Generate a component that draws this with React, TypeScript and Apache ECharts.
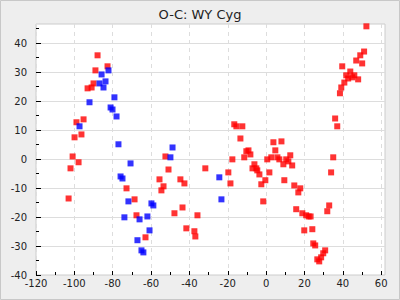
import React, { useEffect, useRef } from "react";
import * as echarts from "echarts";

const redX = [
  -87.9, -82.7, -89.0, -90.0, -91.0, -93.1, -95.2, -98.9, -96.3, -99.9, -100.9, -97.8, -102.0, -72.8, -103.0, -68.6, -67.6, -62.9,
  -52.5, -50.9, -31.7, -55.6, -53.5, -54.6, -44.7, -42.6, -43.6, -47.8, -35.8, -41.6, -37.4, -36.9,
  -16.6, -15.5, -12.4, -13.4, -10.3, -9.2, -8.2, -11.4, -17.6, -6.1, -7.1, -5.1, -4.6, -3.5, -19.7, -18.6, -0.4, -2.5,
  1.7, 0.6, 2.7, 3.8, 4.8, 8.0, 5.9, 6.9, 9.0, 10.5, 11.6, 12.6, 13.6, 9.5, -1.5, 14.7, 17.8, 16.8, 15.7,
  35.0, 33.9, 18.9, 20.9, 22.2, 23.2, 32.9, 31.9, 19.9, 24.1, 24.6, 25.6, 30.8, 29.8, 28.7, 26.7, 27.7,
  52.3, 51.1, 49.1, 47.0, 50.1, 39.7, 43.9, 41.8, 46.0, 44.9, 42.8, 48.0, 40.8, 39.2, 38.5, 36.0, 37.1,
];
const redY = [
  35.8, 32.0, 30.6, 26.1, 24.7, 24.4, 13.7, 12.7, 8.5, 7.5, 0.9, -1.1, -3.2, -10.1, -13.6, -13.9, -19.4, -27.0,
  0.9, -3.6, -3.2, -7.0, -9.4, -10.8, -7.0, -8.4, -16.7, -18.7, -19.4, -23.9, -24.9, -26.7,
  12.0, 11.3, 11.3, 7.1, 2.7, 3.0, 1.6, 0.6, -0.1, -1.8, -3.2, -3.2, -3.9, -5.3, -4.6, -8.4, -7.3, -8.7,
  -4.6, -0.1, 0.6, 5.8, 3.0, 6.1, 0.6, -0.1, -1.8, -0.1, -0.8, 1.3, -2.2, -7.3, -14.6, -9.1, -10.1, -11.5, -17.3,
  0.6, -4.6, -18.7, -19.4, -19.8, -19.8, -16.0, -18.0, -24.6, -24.2, -29.1, -29.8, -31.5, -32.5, -33.9, -34.6, -35.3,
  45.8, 37.1, 35.8, 34.0, 33.0, 32.0, 30.2, 28.9, 28.9, 28.2, 27.8, 27.5, 26.4, 24.7, 22.7, 14.0, 11.3,
];
const blueX = [
  -82.2, -85.8, -83.75, -86.9, -84.8, -79.1, -92.1, -81.1, -80.1, -78.0, -97.3, -77.0, -70.7, -75.9, -74.9,
  -71.8, -59.8, -58.8, -73.9, -61.9, -66.0, -60.8, -67.1, -65.0, -64.0, -48.8, -49.9, -24.4, -23.3,
];
const blueY = [
  30.6, 29.2, 26.8, 26.1, 24.7, 21.3, 19.6, 17.8, 17.1, 14.7, 11.3, 5.1, -1.5, -6.0, -6.7,
  -14.6, -15.3, -16.0, -20.1, -19.8, -20.8, -24.6, -28.0, -31.5, -32.2, 4.0, 0.6, -6.3, -13.9,
];

const xMajor = [-120, -100, -80, -60, -40, -20, 0, 20, 40, 60];
const xMinor = [-110, -90, -70, -50, -30, -10, 10, 30, 50];
const yMajor = [-40, -30, -20, -10, 0, 10, 20, 30, 40];
const yMinor = [-35, -25, -15, -5, 5, 15, 25, 35, 45];

const X_MIN = -120;
const X_MAX = 62;
const Y_MIN = -40;
const Y_MAX = 46.6;

export default function App() {
  const ref = useRef<HTMLDivElement>(null);
  useEffect(() => {
    const chart = echarts.init(ref.current!, null, { renderer: "svg" });
    const font = "DejaVu Sans";
    const labelStyle = { fontFamily: font, fontSize: 10, color: "#222" };
    const noLine = { show: false, onZero: false };
    chart.setOption({
      animation: false,
      backgroundColor: "#eeeeee",
      title: {
        text: "O-C: WY Cyg",
        left: "center",
        top: 3,
        textStyle: { fontFamily: font, fontSize: 13, fontWeight: "normal", color: "#222" },
      },
      graphic: [
        {
          type: "rect",
          shape: { x: 0.5, y: 0.5, width: 399, height: 299 },
          style: { fill: "none", stroke: "#c8c8c8", lineWidth: 1 },
          silent: true,
        },
      ],
      grid: {
        left: 36,
        right: 15,
        top: 24,
        bottom: 25,
        show: true,
        backgroundColor: "#ffffff",
        borderColor: "#cccccc",
        borderWidth: 1,
      },
      xAxis: [
        {
          type: "value",
          min: X_MIN,
          max: X_MAX,
          interval: 20,
          position: "bottom",
          axisLine: noLine,
          axisTick: { inside: true, length: 4, customValues: xMajor, lineStyle: { color: "#000" } },
          axisLabel: { customValues: xMajor, margin: 3, ...labelStyle },
          splitLine: { show: true, lineStyle: { type: [4, 4], color: "#dddddd" } },
        },
        {
          type: "value",
          min: X_MIN,
          max: X_MAX,
          position: "bottom",
          axisLine: noLine,
          axisTick: { inside: true, length: 3, customValues: xMinor, lineStyle: { color: "#000" } },
          axisLabel: { show: false },
          splitLine: { show: false },
        },
      ],
      yAxis: [
        {
          type: "value",
          min: Y_MIN,
          max: Y_MAX,
          interval: 10,
          position: "left",
          axisLine: noLine,
          axisTick: { inside: true, length: 5, customValues: yMajor, lineStyle: { color: "#000" } },
          axisLabel: { customValues: yMajor, margin: 9, ...labelStyle },
          splitLine: { show: true, lineStyle: { type: "solid", color: "#dddddd" } },
        },
        {
          type: "value",
          min: Y_MIN,
          max: Y_MAX,
          position: "left",
          axisLine: noLine,
          axisTick: { inside: true, length: 3, customValues: yMinor, lineStyle: { color: "#000" } },
          axisLabel: { show: false },
          splitLine: { show: false },
        },
      ],
      series: [
        {
          type: "scatter",
          xAxisIndex: 0,
          yAxisIndex: 0,
          symbol: "rect",
          symbolSize: 6,
          itemStyle: { color: "#ff0000" },
          data: redX.map((x, i) => [x, redY[i]]),
        },
        {
          type: "scatter",
          xAxisIndex: 0,
          yAxisIndex: 0,
          symbol: "rect",
          symbolSize: 6,
          itemStyle: { color: "#0000ff" },
          data: blueX.map((x, i) => [x, blueY[i]]),
        },
      ],
    });
    return () => chart.dispose();
  }, []);
  return (
    <div
      ref={ref}
      style={{ position: "fixed", left: 0, top: 0, width: 400, height: 300 }}
    />
  );
}
